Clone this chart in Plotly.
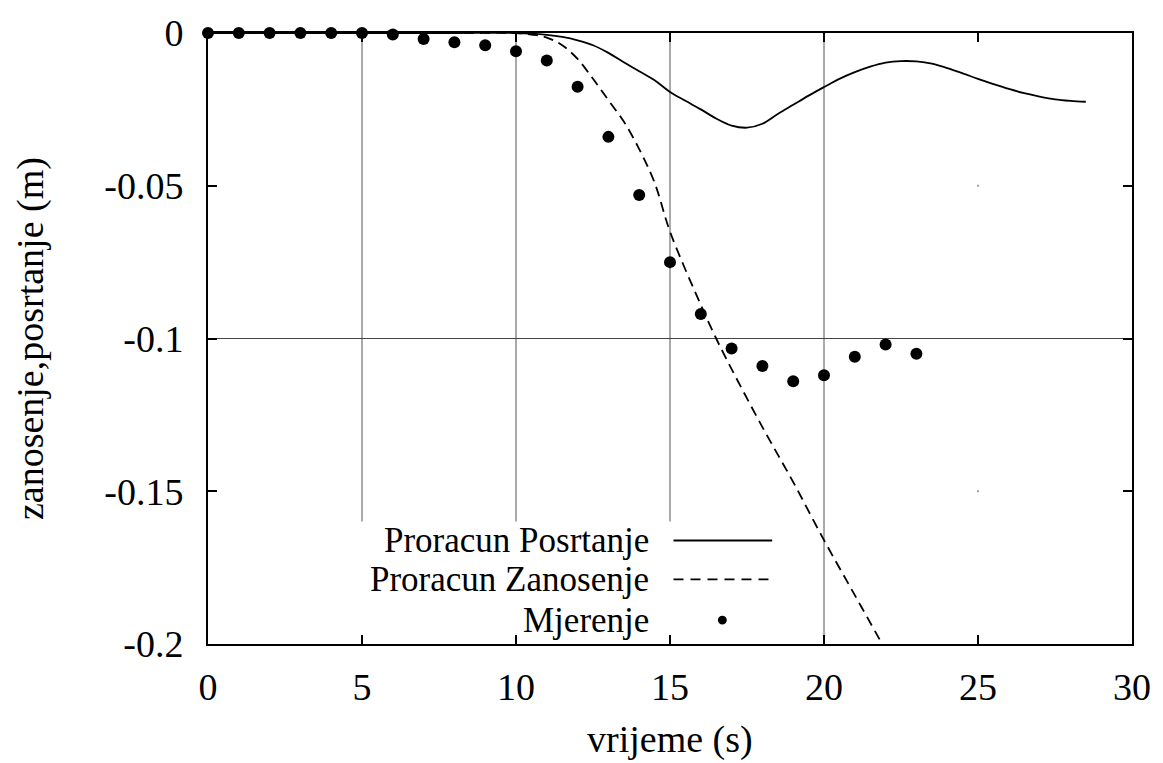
import plotly.graph_objects as go

# Measured drift (Mjerenje), one sample per second
t_meas = list(range(0, 24))
y_meas = [0.0, 0.0, 0.0, 0.0, 0.0, 0.0, -0.0005, -0.002, -0.003, -0.004,
          -0.006, -0.009, -0.0176, -0.034, -0.053, -0.075, -0.092, -0.1033,
          -0.109, -0.114, -0.112, -0.106, -0.102, -0.105]

# Computed pitch (Proracun Posrtanje)
t_pos = [0, 2, 4, 6, 8, 10, 10.5, 11, 11.5, 12, 12.5, 13, 13.5, 14, 14.5, 15,
         15.5, 16, 16.5, 17, 17.5, 18, 18.5, 19, 19.5, 20, 20.5, 21, 21.5, 22,
         22.5, 23, 23.5, 24, 24.5, 25, 25.5, 26, 26.5, 27, 27.5, 28, 28.5]
y_pos = [0.0, 0.0, 0.0, 0.0, 0.0, 0.0, -0.0002, -0.0006, -0.0013, -0.0024,
         -0.0040, -0.0065, -0.0096, -0.0125, -0.0155, -0.0193, -0.0222,
         -0.0250, -0.0280, -0.0303, -0.0310, -0.0297, -0.0265, -0.0235,
         -0.0205, -0.0177, -0.0150, -0.0128, -0.0110, -0.0097, -0.0092,
         -0.0093, -0.0100, -0.0115, -0.0132, -0.0150, -0.0167, -0.0183,
         -0.0197, -0.0208, -0.0217, -0.0222, -0.0225]

# Computed drift (Proracun Zanosenje)
t_zan = [0, 2, 4, 6, 8, 10, 10.5, 11, 11.5, 12, 12.5, 13, 13.5, 14, 14.5, 15,
         16, 16.5, 17, 18, 19, 20, 21, 22]
y_zan = [0.0, 0.0, 0.0, 0.0, 0.0, 0.0, -0.0005, -0.0015, -0.004, -0.0085,
         -0.0150, -0.0220, -0.0290, -0.0380, -0.0490, -0.0650, -0.0890,
         -0.1000, -0.1100, -0.1290, -0.1470, -0.1660, -0.1840, -0.2020]

x_ticks = [0, 5, 10, 15, 20, 25, 30]
y_ticks = [0, -0.05, -0.1, -0.15, -0.2]
y_tick_text = ["0", "-0.05", "-0.1", "-0.15", "-0.2"]

legend_labels = ["Proracun Posrtanje", "Proracun Zanosenje", "Mjerenje"]

FONT = "Liberation Serif, Times New Roman, serif"
FS = 38
FS_KEY = 35

W, H = 1163, 763
L, R, T, B = 208, 28, 30, 119
PW, PH = W - L - R, H - T - B


def px(x):
    return (x - L) / PW


def py(y):
    return (H - B - y) / PH


fig = go.Figure()

fig.add_trace(go.Scatter(x=t_pos, y=y_pos, mode="lines", line_shape="spline",
                         line=dict(color="black", width=1.8),
                         showlegend=False, cliponaxis=True))
fig.add_trace(go.Scatter(x=t_zan, y=y_zan, mode="lines", line_shape="spline",
                         line=dict(color="black", width=1.8, dash="10px,6px"),
                         showlegend=False, cliponaxis=True))
fig.add_trace(go.Scatter(x=t_meas, y=y_meas, mode="markers",
                         marker=dict(color="black", size=12),
                         showlegend=False, cliponaxis=False))

shapes = []
# grid lines
for gx in [5, 10, 15, 20]:
    shapes.append(dict(type="line", xref="x", yref="paper", x0=gx, x1=gx,
                       y0=0, y1=1, line=dict(color="#555", width=1),
                       layer="below"))
shapes.append(dict(type="line", xref="paper", yref="y", x0=0, x1=1,
                   y0=-0.1, y1=-0.1, line=dict(color="#444", width=1),
                   layer="below"))
# remaining grid crossing points
for gy in [-0.05, -0.15]:
    shapes.append(dict(type="rect", xref="x", yref="y", x0=24.97, x1=25.03,
                       y0=gy - 0.0003, y1=gy + 0.0003,
                       line=dict(width=0), fillcolor="#999", layer="below"))
# key box background
shapes.append(dict(type="rect", xref="paper", yref="paper",
                   x0=px(352), x1=px(790), y0=py(640), y1=py(521),
                   line=dict(width=0), fillcolor="white", layer="below"))
# key samples
rows = [540, 579, 620]
shapes.append(dict(type="line", xref="paper", yref="paper", x0=px(675),
                   x1=px(774), y0=py(rows[0]), y1=py(rows[0]),
                   line=dict(color="black", width=1.8)))
shapes.append(dict(type="line", xref="paper", yref="paper", x0=px(675),
                   x1=px(774), y0=py(rows[1]), y1=py(rows[1]),
                   line=dict(color="black", width=1.8, dash="10px,7px")))
shapes.append(dict(type="circle", xref="paper", yref="paper",
                   x0=px(719.5), x1=px(728.5), y0=py(rows[2] + 4.5),
                   y1=py(rows[2] - 4.5), fillcolor="black",
                   line=dict(width=0)))

annotations = []
for lbl, ry in zip(legend_labels, rows):
    annotations.append(dict(text=lbl, xref="paper", yref="paper", x=px(652),
                            y=py(ry), xanchor="right", yanchor="middle",
                            showarrow=False,
                            font=dict(family=FONT, size=FS_KEY, color="black")))
annotations.append(dict(text="vrijeme (s)", xref="paper", yref="paper",
                        x=px(672), y=py(740), xanchor="center",
                        yanchor="middle", showarrow=False,
                        font=dict(family=FONT, size=FS, color="black")))
annotations.append(dict(text="zanosenje,posrtanje (m)", xref="paper",
                        yref="paper", x=px(30), y=py(337), textangle=-90,
                        xanchor="center", yanchor="middle", showarrow=False,
                        font=dict(family=FONT, size=FS, color="black")))

fig.update_layout(
    width=W, height=H,
    margin=dict(l=L, r=R, t=T, b=B),
    paper_bgcolor="white", plot_bgcolor="white",
    font=dict(family=FONT, size=FS, color="black"),
    shapes=shapes, annotations=annotations,
    showlegend=False,
)
fig.update_xaxes(range=[0, 30], tickvals=x_ticks,
                 ticktext=[str(v) for v in x_ticks],
                 ticks="inside", ticklen=9, tickwidth=1.5, tickcolor="black",
                 showline=True, linecolor="black", linewidth=2, mirror="ticks",
                 showgrid=False, zeroline=False, ticklabelstandoff=8,
                 tickfont=dict(family=FONT, size=FS, color="black"))
fig.update_yaxes(range=[-0.2, 0], tickvals=y_ticks, ticktext=y_tick_text,
                 ticks="inside", ticklen=9, tickwidth=1.5, tickcolor="black",
                 showline=True, linecolor="black", linewidth=2, mirror="ticks",
                 showgrid=False, zeroline=False, ticklabelstandoff=15,
                 tickfont=dict(family=FONT, size=FS, color="black"))

fig.write_html("out.html")
